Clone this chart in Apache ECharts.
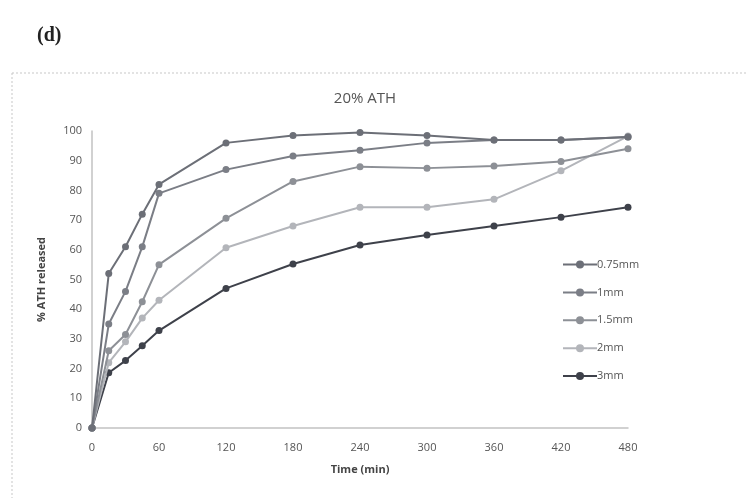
<!DOCTYPE html>
<html>
<head>
<meta charset="utf-8">
<script src="https://cdn.jsdelivr.net/npm/echarts@6/dist/echarts.min.js"></script>
<style>html,body{margin:0;padding:0;background:#fff}#c{width:748px;height:498px}</style>
</head>
<body>
<div id="c"></div>
<script>
const times = [0, 15, 30, 45, 60, 120, 180, 240, 300, 360, 420, 480];
const seriesNames = ['0.75mm', '1mm', '1.5mm', '2mm', '3mm'];
const s075 = [0, 52, 61, 72, 82, 96, 98.5, 99.5, 98.5, 97, 97, 98];
const s1 = [0, 35, 46, 61, 79, 87, 91.6, 93.5, 96, 97, 97, 98];
const s15 = [0, 26, 31.5, 42.5, 55, 70.6, 83, 88, 87.5, 88.2, 89.7, 94];
const s2 = [0, 22, 29, 37, 43, 60.7, 68, 74.3, 74.3, 77, 86.6, 98.3];
const s3 = [0, 18.6, 22.7, 27.7, 32.8, 47, 55.2, 61.6, 65, 68, 71, 74.3];
const xTicks = [0, 60, 120, 180, 240, 300, 360, 420, 480];
const yTicks = [0, 10, 20, 30, 40, 50, 60, 70, 80, 90, 100];

const values = [s075, s1, s15, s2, s3];
const colors = ['#6c6f77', '#7b7e86', '#8d9096', '#b3b5ba', '#3e414a'];

const chart = echarts.init(document.getElementById('c'));
chart.setOption({
  animation: false,
  backgroundColor: '#fff',
  title: {
    text: '20% ATH', left: 360, top: 86, textAlign: 'center',
    textStyle: { fontFamily: 'Open Sans', fontSize: 15, fontWeight: 'normal', color: '#555' }
  },
  graphic: [
    { type: 'text', left: 37, top: 26, style: { text: '(d)', font: 'bold 20px "Liberation Serif"', fill: '#222' } },
    { type: 'line', shape: { x1: 12, y1: 73, x2: 748, y2: 73 }, style: { stroke: '#c8c8c8', lineWidth: 1, lineDash: [2, 2] } },
    { type: 'line', shape: { x1: 12, y1: 73, x2: 12, y2: 498 }, style: { stroke: '#c8c8c8', lineWidth: 1, lineDash: [2, 2] } }
  ],
  grid: { left: 92, right: 120, top: 131, bottom: 70 },
  legend: {
    orient: 'vertical', left: 557, top: 254, itemGap: 16.9, itemWidth: 34, itemHeight: 10,
    data: seriesNames,
    textStyle: { fontFamily: 'Open Sans', fontSize: 11, color: '#555', padding: [0, 0, 0, -5] }
  },
  xAxis: {
    type: 'value', min: xTicks[0], max: xTicks[xTicks.length - 1], interval: 60,
    name: 'Time (min)', nameLocation: 'middle', nameGap: 36,
    nameTextStyle: { fontFamily: 'Open Sans', fontSize: 11, fontWeight: 'bold', color: '#444' },
    axisLine: { lineStyle: { color: '#c2c2c2', width: 1.5 } },
    axisTick: { show: false },
    splitLine: { show: false },
    axisLabel: { fontFamily: 'Open Sans', fontSize: 11, color: '#555', margin: 14 }
  },
  yAxis: {
    type: 'value', min: yTicks[0], max: yTicks[yTicks.length - 1], interval: 10,
    name: '% ATH released', nameLocation: 'middle', nameGap: 45, nameRotate: 90,
    nameTextStyle: { fontFamily: 'Open Sans', fontSize: 11, fontWeight: 'bold', color: '#444' },
    axisLine: { show: true, lineStyle: { color: '#c2c2c2', width: 1.5 } },
    axisTick: { show: false },
    splitLine: { show: false },
    axisLabel: { fontFamily: 'Open Sans', fontSize: 11, color: '#555', margin: 10 }
  },
  series: seriesNames.map((n, i) => ({
    name: n, type: 'line',
    data: times.map((t, j) => [t, values[i][j]]),
    symbol: 'circle', symbolSize: 7,
    lineStyle: { width: 2, color: colors[i] },
    itemStyle: { color: colors[i] },
    z: 10 - i
  }))
});
</script>
</body>
</html>
